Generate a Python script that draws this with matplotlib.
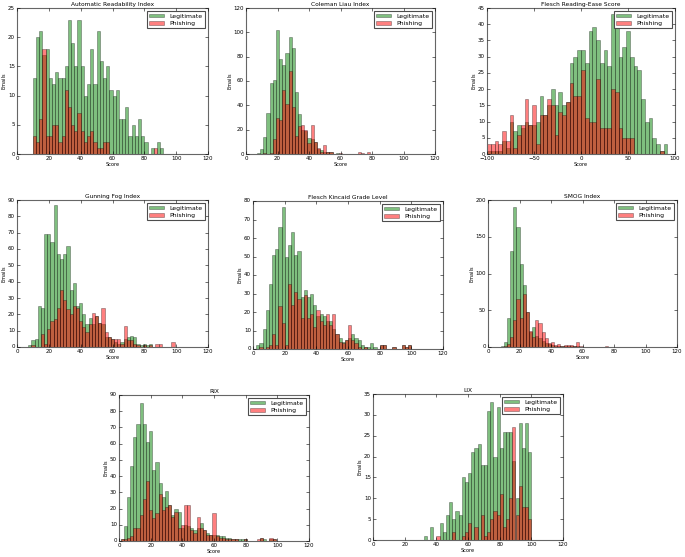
import numpy as np
import matplotlib
matplotlib.use("Agg")
import matplotlib.pyplot as plt

plt.style.use("classic")

# counts per bin (bin start, bin width, counts)
ari_start, ari_width = 10, 2
ari_legit = [13, 20, 21, 17, 18, 13, 12, 14, 13, 13, 15, 23, 19, 15, 23, 15, 10, 12, 18, 12,
             21, 16, 13, 15, 11, 10, 11, 6, 6, 8, 3, 5, 3, 6, 3, 2, 0, 1, 0, 2, 1]
ari_phish = [3, 2, 6, 18, 3, 3, 5, 5, 2, 3, 11, 8, 5, 4, 7, 4, 2, 3, 4, 2,
             1, 1, 2, 2, 0, 0, 0, 0, 0, 0, 0, 0, 0, 0, 0, 0, 0, 0, 1, 0, 0]

cl_start, cl_width = 5, 2
cl_legit = [0, 1, 4, 14, 34, 58, 61, 102, 78, 73, 83, 96, 87, 51, 33, 20, 19, 13, 12, 10,
            4, 3, 2, 2, 2, 0, 1, 0, 0, 0, 0, 0, 0, 0, 0, 0, 0, 0]
cl_phish = [0, 0, 0, 1, 0, 1, 12, 30, 28, 53, 41, 68, 39, 15, 23, 24, 20, 9, 24, 10,
            5, 2, 7, 2, 2, 0, 0, 1, 0, 0, 0, 0, 0, 2, 1, 0, 2, 0]

fre_start, fre_width = -100, 4
fre_legit = [1, 1, 1, 1, 4, 2, 10, 7, 9, 8, 10, 9, 9, 10, 18, 12, 15, 20, 15, 19,
             15, 16, 28, 30, 32, 32, 28, 38, 39, 35, 28, 32, 27, 43, 41, 30, 33, 38, 30, 27,
             26, 17, 10, 11, 5, 3, 1, 3]
fre_phish = [3, 3, 4, 3, 7, 4, 12, 2, 6, 9, 17, 9, 15, 3, 12, 12, 17, 15, 6, 13,
             12, 16, 22, 18, 18, 26, 11, 10, 10, 23, 8, 8, 8, 20, 19, 8, 5, 5, 5, 0,
             0, 0, 0, 0, 0, 0, 1, 0]

gf_start, gf_width = 7, 2
gf_legit = [1, 4, 5, 25, 24, 69, 69, 64, 87, 57, 54, 57, 62, 35, 39, 25, 27, 20, 14, 18,
            14, 19, 15, 14, 6, 6, 5, 3, 2, 3, 5, 6, 7, 6, 2, 1, 2, 1, 2, 0,
            0, 0, 0, 0, 0, 0, 0]
gf_phish = [0, 1, 0, 0, 8, 2, 11, 16, 17, 24, 35, 29, 23, 20, 25, 24, 16, 12, 9, 14,
            21, 19, 15, 24, 9, 6, 5, 5, 5, 2, 13, 4, 4, 2, 1, 0, 1, 0, 1, 0,
            2, 2, 0, 0, 0, 3, 0]

fk_start, fk_width = 2, 2
fk_legit = [2, 3, 11, 21, 35, 51, 54, 66, 77, 50, 56, 63, 51, 53, 28, 32, 28, 30, 24, 18,
            19, 18, 15, 15, 11, 8, 6, 4, 5, 6, 8, 6, 5, 2, 1, 1, 3, 1, 0, 2,
            2, 0, 0, 1, 0, 0, 2, 1, 2]
fk_phish = [0, 1, 0, 1, 2, 8, 2, 23, 14, 2, 35, 24, 31, 27, 17, 29, 17, 19, 12, 21,
            15, 13, 19, 13, 19, 8, 4, 3, 5, 13, 5, 3, 1, 0, 1, 0, 0, 0, 0, 2,
            2, 0, 0, 1, 0, 0, 2, 1, 2]

smog_start, smog_width = 8, 2
smog_legit = [1, 7, 40, 130, 190, 163, 113, 85, 48, 20, 27, 15, 12, 8, 6, 4, 3, 2, 2, 1,
              1, 1, 1, 1, 1, 0, 0, 0, 0, 0, 0, 0, 0, 0]
smog_phish = [0, 2, 4, 13, 37, 65, 40, 72, 48, 22, 13, 37, 33, 20, 12, 6, 7, 3, 4, 2,
              3, 3, 3, 2, 7, 2, 0, 0, 0, 0, 0, 0, 0, 1]

rix_start, rix_width = 1, 2
rix_legit = [1, 9, 27, 46, 64, 72, 85, 72, 61, 68, 44, 49, 36, 27, 31, 22, 16, 20, 18, 8,
             10, 9, 8, 7, 8, 11, 7, 5, 4, 4, 4, 3, 3, 2, 2, 1, 1, 1, 1, 1,
             0, 0, 0, 0, 2, 1, 0, 1, 1, 0]
rix_phish = [1, 1, 2, 3, 8, 8, 16, 26, 37, 19, 14, 17, 29, 19, 21, 22, 15, 18, 8, 10,
             22, 22, 7, 5, 15, 8, 7, 4, 4, 17, 3, 2, 2, 1, 1, 1, 1, 0, 0, 1,
             0, 0, 0, 1, 2, 0, 0, 2, 1, 0]

lix_start, lix_width = 32, 2
lix_legit = [1, 0, 3, 0, 0, 4, 2, 6, 9, 5, 7, 6, 15, 14, 16, 21, 22, 23, 18, 18,
             31, 33, 20, 32, 22, 26, 26, 26, 19, 10, 28, 22, 28, 21]
lix_phish = [0, 0, 0, 0, 1, 0, 0, 0, 0, 2, 0, 0, 1, 2, 4, 0, 3, 0, 6, 1,
             2, 5, 7, 6, 11, 3, 5, 10, 27, 6, 13, 8, 8, 5]

titles = ["Automatic Readability Index", "Coleman Liau Index", "Flesch Reading-Ease Score",
          "Gunning Fog Index", "Flesch Kincaid Grade Level", "SMOG Index", "RIX", "LIX"]

panels = [
    (ari_start, ari_width, ari_legit, ari_phish),
    (cl_start, cl_width, cl_legit, cl_phish),
    (fre_start, fre_width, fre_legit, fre_phish),
    (gf_start, gf_width, gf_legit, gf_phish),
    (fk_start, fk_width, fk_legit, fk_phish),
    (smog_start, smog_width, smog_legit, smog_phish),
    (rix_start, rix_width, rix_legit, rix_phish),
    (lix_start, lix_width, lix_legit, lix_phish),
]

xlims = [(0, 120), (0, 120), (-100, 100), (0, 120), (0, 120), (0, 120), (0, 120), (0, 120)]
ylims = [25, 120, 45, 90, 80, 200, 90, 35]

# axes boxes in pixels: left, top, right, bottom
boxes = [
    (17, 8, 208, 154), (246, 8, 435, 154), (487, 8, 675, 154),
    (17, 200, 208, 347), (253, 201, 443, 349), (488, 200, 677, 347),
    (119, 395, 309, 541), (373, 394, 563, 540),
]

W, H = 685, 557
fig = plt.figure(figsize=(W / 100, H / 100), dpi=100, facecolor="white")

for i in range(8):
    start, width, legit, phish = panels[i]
    edges = start + width * np.arange(len(legit) + 1)
    l, t, r, b = boxes[i]
    ax = fig.add_axes([l / W, 1 - b / H, (r - l) / W, (b - t) / H])
    ax.hist(edges[:-1], bins=edges, weights=legit, color="g", alpha=0.5,
            edgecolor="k", linewidth=0.4, label="Legitimate")
    ax.hist(edges[:-1], bins=edges, weights=phish, color="r", alpha=0.5,
            edgecolor="k", linewidth=0.4, label="Phishing")
    ax.set_xlim(xlims[i])
    ax.set_ylim(0, ylims[i])
    ax.set_title(titles[i], fontsize=4.2, pad=1.5)
    ax.set_xlabel("Score", fontsize=3.6, labelpad=1)
    ax.set_ylabel("Emails", fontsize=3.6, labelpad=1)
    ax.tick_params(labelsize=4, length=2, width=0.4, pad=1.5)
    for s in ax.spines.values():
        s.set_linewidth(0.8)
        s.set_color("0.4")
    leg = ax.legend(loc="upper right", fontsize=4.4, handlelength=2.5, handleheight=0.6,
                    borderpad=0.4, labelspacing=0.35, handletextpad=0.8, borderaxespad=0.5)
    leg.get_frame().set_linewidth(0.8)
    leg.get_frame().set_edgecolor("0.3")

fig.savefig("out.png", dpi=100, facecolor="white")
